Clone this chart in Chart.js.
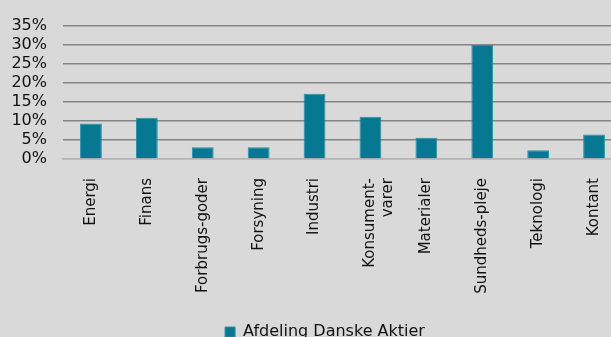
<!DOCTYPE html>
<html>
<head>
<meta charset="utf-8">
<script src="https://cdn.jsdelivr.net/npm/chart.js@4/dist/chart.umd.min.js"></script>
<style>
  html, body { margin: 0; padding: 0; overflow: hidden; background: #d9d9d9; }
  #wrap { width: 650px; height: 350px; }
</style>
</head>
<body>
<div id="wrap"><canvas id="myChart" width="650" height="350"></canvas></div>
<script>
// Data
var categories = ['Energi', 'Finans', 'Forbrugs-goder', 'Forsyning', 'Industri',
    ['Konsument-', 'varer'], 'Materialer', 'Sundheds-pleje', 'Teknologi', 'Kontant'];
var seriesName = 'Afdeling Danske Aktier';
var weights = [9.3, 10.8, 3.1, 3.1, 17.1, 11.1, 5.6, 29.9, 2.3, 6.4];
var yTicks = [0, 5, 10, 15, 20, 25, 30, 35];

var teal = '#077891';
var font = 'DejaVu Sans, Verdana, sans-serif';

// nudge the legend a little right, as in the original
var legendShift = {
    id: 'legendShift',
    afterLayout: function (chart) {
        if (chart.legend) {
            chart.legend.left += 9;
            chart.legend.right += 9;
        }
    }
};

var ctx = document.getElementById('myChart').getContext('2d');
var myChart = new Chart(ctx, {
    type: 'bar',
    data: {
        labels: categories,
        datasets: [{
            label: seriesName,
            data: weights,
            backgroundColor: teal,
            borderColor: '#2a90a4',
            borderWidth: 1,
            categoryPercentage: 1,
            barPercentage: 0.39
        }]
    },
    plugins: [legendShift],
    options: {
        responsive: false,
        animation: false,
        layout: { padding: { top: 11, left: 10, right: 28, bottom: 0 } },
        plugins: {
            tooltip: { enabled: false },
            legend: {
                position: 'bottom',
                labels: {
                    boxWidth: 10,
                    boxHeight: 10,
                    padding: 4,
                    color: '#111',
                    font: { family: font, size: 16 }
                }
            }
        },
        scales: {
            x: {
                grid: { display: false },
                border: { display: true, color: '#b4b4b4', width: 1.5 },
                afterFit: function (scale) { scale.height = 161; },
                ticks: {
                    maxRotation: 90,
                    minRotation: 90,
                    padding: 11,
                    color: '#111',
                    font: { family: font, size: 15 }
                }
            },
            y: {
                min: 0,
                max: 35,
                afterBuildTicks: function (axis) {
                    axis.ticks = yTicks.map(function (v) { return { value: v }; });
                },
                afterFit: function (scale) { scale.width = 53; },
                border: { display: false },
                grid: {
                    drawTicks: false,
                    lineWidth: 1.5,
                    color: function (c) { return c.tick && c.tick.value === 0 ? '#b4b4b4' : '#858585'; }
                },
                ticks: {
                    autoSkip: false,
                    padding: 16,
                    color: '#111',
                    font: { family: font, size: 16 },
                    callback: function (v) { return v + '%'; }
                }
            }
        }
    }
});
</script>
</body>
</html>
